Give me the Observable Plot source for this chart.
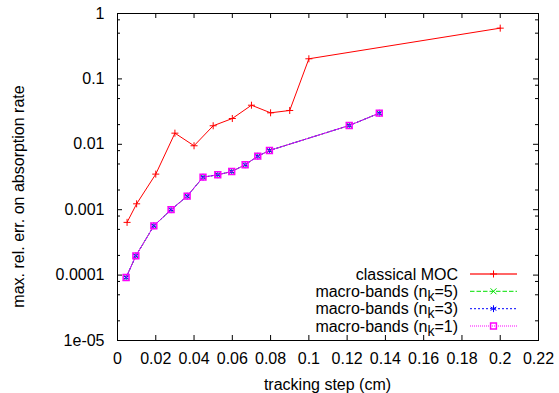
<!DOCTYPE html>
<html><head><meta charset="utf-8">
<script src="https://cdn.jsdelivr.net/npm/d3@7"></script>
<script src="https://cdn.jsdelivr.net/npm/@observablehq/plot@0.6"></script>
<style>html,body{margin:0;padding:0;background:#fff}svg{display:block}</style>
</head><body><div id="chart"></div>
<script>
// ---- data ----
const mocX = [0.005, 0.01, 0.02, 0.03, 0.04, 0.05, 0.06, 0.07, 0.08, 0.09, 0.1, 0.2];
const mocY = [6.4e-4, 1.23e-3, 3.5e-3, 0.0148, 0.0095, 0.0192, 0.0248, 0.0396, 0.0303, 0.0329, 0.203, 0.597];
const nk5X = [0.0045, 0.0096, 0.019, 0.028, 0.0364, 0.0447, 0.0524, 0.0597, 0.0667, 0.0733, 0.0794, 0.1211, 0.1368];
const nk5Y = [9.2e-5, 1.97e-4, 5.67e-4, 1.0e-3, 1.61e-3, 3.14e-3, 3.42e-3, 3.84e-3, 4.86e-3, 6.58e-3, 8.04e-3, 0.0194, 0.0299];
const nk3X = [0.0045, 0.0096, 0.019, 0.028, 0.0364, 0.0447, 0.0524, 0.0597, 0.0667, 0.0733, 0.0794, 0.1211, 0.1368];
const nk3Y = [9.2e-5, 1.97e-4, 5.67e-4, 1.0e-3, 1.61e-3, 3.14e-3, 3.42e-3, 3.84e-3, 4.86e-3, 6.58e-3, 8.04e-3, 0.0194, 0.0299];
const nk1X = [0.0045, 0.0096, 0.019, 0.028, 0.0364, 0.0447, 0.0524, 0.0597, 0.0667, 0.0733, 0.0794, 0.1211, 0.1368];
const nk1Y = [9.2e-5, 1.97e-4, 5.67e-4, 1.0e-3, 1.61e-3, 3.14e-3, 3.42e-3, 3.84e-3, 4.86e-3, 6.58e-3, 8.04e-3, 0.0194, 0.0299];

const xTicks = [0, 0.02, 0.04, 0.06, 0.08, 0.1, 0.12, 0.14, 0.16, 0.18, 0.2, 0.22];
const xTickLabels = ["0", "0.02", "0.04", "0.06", "0.08", "0.1", "0.12", "0.14", "0.16", "0.18", "0.2", "0.22"];
const yTicks = [1e-5, 1e-4, 1e-3, 1e-2, 1e-1, 1];
const yTickLabels = ["1e-05", "0.0001", "0.001", "0.01", "0.1", "1"];
const yMinor = [2e-5, 5e-5, 8e-5, 2e-4, 5e-4, 8e-4, 2e-3, 5e-3, 8e-3, 2e-2, 5e-2, 8e-2, 0.2, 0.5, 0.8];

const xLabel = "tracking step (cm)";
const yLabel = "max. rel. err. on absorption rate";

// ---- layout ----
const W = 559, H = 393;
const ML = 117, MR = 21, MT = 13, MB = 53;
const PW = W - ML - MR, PH = H - MT - MB;
const FONT = "'Liberation Sans', Arial, Helvetica, sans-serif";

const zip = (xs, ys) => xs.map((x, i) => ({x, y: ys[i]}));
const series = [
  {name: "classical MOC", sub: null, data: zip(mocX, mocY), color: "#ff0000", dash: null, symbol: "plus", r: 2.4, fill: null, legendWidth: 2, legendColor: "#f66"},
  {name: "macro-bands (n", sub: "k", tail: "=5)", data: zip(nk5X, nk5Y), color: "#00e000", dash: "4.5,2", symbol: "times", r: 2.8, fill: null},
  {name: "macro-bands (n", sub: "k", tail: "=3)", data: zip(nk3X, nk3Y), color: "#0000ff", dash: "2,2", symbol: "asterisk", r: 3.2, fill: null},
  {name: "macro-bands (n", sub: "k", tail: "=1)", data: zip(nk1X, nk1Y), color: "#ff00ff", dash: "1,1", symbol: "square", r: 3.3, fill: "none"}
];

const marks = [];
// ticks (inward, mirrored)
marks.push(Plot.tickX(xTicks, {x: d => d, insetTop: PH - 5, stroke: "black"}));
marks.push(Plot.tickX(xTicks, {x: d => d, insetBottom: PH - 5, stroke: "black"}));
marks.push(Plot.tickY(yTicks, {y: d => d, insetRight: PW - 5, stroke: "black"}));
marks.push(Plot.tickY(yTicks, {y: d => d, insetLeft: PW - 5, stroke: "black"}));
marks.push(Plot.tickY(yMinor, {y: d => d, insetRight: PW - 3, stroke: "black"}));
marks.push(Plot.tickY(yMinor, {y: d => d, insetLeft: PW - 3, stroke: "black"}));
marks.push(Plot.axisX({ticks: xTicks, tickSize: 0, tickPadding: 12, tickFormat: d => xTickLabels[xTicks.indexOf(d)], label: null, fontSize: 16}));
marks.push(Plot.axisY({ticks: yTicks, tickSize: 0, tickPadding: 13, tickFormat: d => yTickLabels[yTicks.indexOf(d)], label: null, fontSize: 16}));

for (const s of series) {
  marks.push(Plot.line(s.data, {x: "x", y: "y", stroke: s.color, strokeWidth: 1, strokeDasharray: s.dash}));
  marks.push(Plot.dot(s.data, {x: "x", y: "y", symbol: () => s.symbol, r: s.r, stroke: s.color, strokeWidth: s.symbol === "square" ? 1.5 : 1, fill: s.fill ?? undefined}));
}
marks.push(Plot.frame({stroke: "black", strokeWidth: 1}));

const chart = Plot.plot({
  width: W, height: H,
  marginLeft: ML, marginRight: MR, marginTop: MT, marginBottom: MB,
  style: {fontFamily: FONT, fontSize: "16px", background: "white", color: "black", overflow: "visible"},
  x: {domain: [0, 0.22]},
  y: {type: "log", domain: [1e-5, 1]},
  marks
});
document.getElementById("chart").appendChild(chart);

// ---- axis titles and legend ----
const svg = d3.select(chart);
svg.append("text").attr("x", ML + PW / 2).attr("y", 390).attr("text-anchor", "middle")
  .attr("font-family", FONT).attr("font-size", 16).attr("fill", "black").text(xLabel);
svg.append("text").attr("transform", `translate(24,${H / 2}) rotate(-90)`).attr("text-anchor", "middle")
  .attr("font-family", FONT).attr("font-size", 16).attr("fill", "black").text(yLabel);

const symMap = {plus: d3.symbolPlus, times: d3.symbolTimes, asterisk: d3.symbolAsterisk, square: d3.symbolSquare};
const legendRows = [274, 291.3, 308.7, 326];
const textRight = 458, lineX1 = 470, lineX2 = 517, markX = 493.5;
series.forEach((s, i) => {
  const y = legendRows[i];
  const t = svg.append("text").attr("x", textRight).attr("y", y + 5.5).attr("text-anchor", "end")
    .attr("font-family", FONT).attr("font-size", 16).attr("fill", "black");
  t.append("tspan").text(s.name);
  if (s.sub) {
    t.append("tspan").attr("dy", 4).attr("font-size", 14).text(s.sub);
    t.append("tspan").attr("dy", -4).text(s.tail);
  }
  svg.append("line").attr("x1", lineX1).attr("x2", lineX2).attr("y1", y).attr("y2", y)
    .attr("stroke", s.legendColor || s.color).attr("stroke-width", s.legendWidth || 1)
    .attr("stroke-dasharray", s.dash);
  svg.append("path").attr("transform", `translate(${markX},${y})`)
    .attr("d", d3.symbol(symMap[s.symbol], s.r * s.r * Math.PI)())
    .attr("fill", s.fill || "none").attr("stroke", s.color)
    .attr("stroke-width", s.symbol === "square" ? 1.5 : 1);
});
</script>
</body></html>
